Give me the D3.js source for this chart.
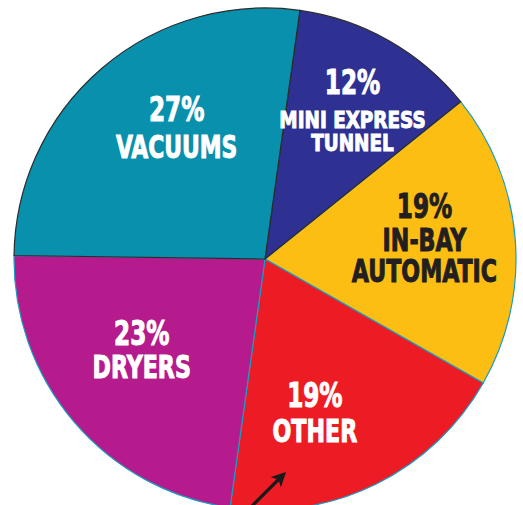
<!DOCTYPE html>
<html>
<head>
<meta charset="utf-8">
<script src="https://cdn.jsdelivr.net/npm/d3@7"></script>
<style>
  html, body { margin: 0; padding: 0; background: #ffffff; }
  svg { display: block; }
  .lbl { font-family: "Liberation Sans Narrow", "Arial Narrow", "DejaVu Sans Condensed", sans-serif; font-weight: bold; }
</style>
</head>
<body>
<svg id="chart" width="523" height="505"></svg>
<script>
// Share of wash revenue by service
const categories = ["MINI EXPRESS TUNNEL", "IN-BAY AUTOMATIC", "OTHER", "DRYERS", "VACUUMS"];
const shares = [12, 19, 19, 23, 27];
const labelLines = [
  ["MINI EXPRESS", "TUNNEL"],
  ["IN-BAY", "AUTOMATIC"],
  ["OTHER"],
  ["DRYERS"],
  ["VACUUMS"]
];
const sliceColors = ["#2e3192", "#fdbe14", "#ed1c24", "#b51b8c", "#0890ad"];
const textColors = ["#ffffff", "#231f20", "#ffffff", "#ffffff", "#ffffff"];
const edgeColors = ["#2b2b2b", "#1a9cc2", "#1a9cc2", "#1a9cc2", "#2b2b2b"];

const width = 523, height = 505;
const cx = 265, cy = 259, radius = 251;
const startDeg = 8;

const svg = d3.select("#chart");
const g = svg.append("g").attr("transform", `translate(${cx},${cy})`);

const pie = d3.pie()
  .sort(null)
  .value(d => d.value)
  .startAngle(startDeg * Math.PI / 180)
  .endAngle(startDeg * Math.PI / 180 + 2 * Math.PI);

const data = categories.map((c, i) => ({
  name: c, value: shares[i], lines: labelLines[i],
  fill: sliceColors[i], text: textColors[i], edge: edgeColors[i]
}));
const arcs = pie(data);

const arc = d3.arc().innerRadius(0).outerRadius(radius);

// light-edged slices first, dark-edged ones on top so their outlines win
const drawOrder = arcs.slice().sort((a, b) =>
  (a.data.edge === "#2b2b2b") - (b.data.edge === "#2b2b2b"));

g.selectAll("path.slice")
  .data(drawOrder)
  .join("path")
  .attr("class", "slice")
  .attr("d", arc)
  .attr("fill", d => d.data.fill)
  .attr("stroke", d => d.data.edge)
  .attr("stroke-width", 1.2)
  .attr("stroke-linejoin", "round");

// label anchor: point on a mid-angle ring, then a small per-slice shift
const labelArc = d3.arc().innerRadius(165).outerRadius(165);
const labelShift = [[6, -22], [-5, -28], [-23, 0], [2, -21], [19, -13]];
const pctSize = [33, 33, 33, 33, 33];
const nameSize = [23.5, 32, 32, 32, 32];
const lineGap = [[34, 23], [33, 31], [35], [33], [37]];
const pctSqueeze = 0.78;
const nameSqueeze = [0.87, 0.77, 0.77, 0.77, 0.76];

arcs.forEach((a, i) => {
  const [x0, y0] = labelArc.centroid(a);
  const x = x0 + labelShift[i][0], y = y0 + labelShift[i][1];
  const lg = g.append("g").attr("transform", `translate(${x},${y})`);
  const lines = [{ t: a.data.value + "%", size: pctSize[i], dy: 0, sx: pctSqueeze }];
  let acc = 0;
  a.data.lines.forEach((t, k) => {
    acc += lineGap[i][k];
    lines.push({ t, size: nameSize[i], dy: acc, sx: nameSqueeze[i] });
  });
  lines.forEach(l => {
    lg.append("text")
      .attr("class", "lbl")
      .attr("text-anchor", "middle")
      .attr("transform", `translate(0,${l.dy}) scale(${l.sx},1)`)
      .attr("font-size", l.size)
      .attr("fill", a.data.text)
      .attr("stroke", a.data.text)
      .attr("stroke-width", 1)
      .text(l.t);
  });
});

// pointer arrow in the lower slice
const defs = svg.append("defs");
defs.append("marker")
  .attr("id", "head")
  .attr("viewBox", "0 0 10 10")
  .attr("refX", 8).attr("refY", 5)
  .attr("markerWidth", 4.5).attr("markerHeight", 4.5)
  .attr("orient", "auto")
  .append("path")
  .attr("d", "M0,0 L10,5 L0,10 L2.5,5 Z")
  .attr("fill", "#1a1a1a");

svg.append("line")
  .attr("x1", 246).attr("y1", 512)
  .attr("x2", 284).attr("y2", 474)
  .attr("stroke", "#1a1a1a")
  .attr("stroke-width", 3.2)
  .attr("marker-end", "url(#head)");
</script>
</body>
</html>
